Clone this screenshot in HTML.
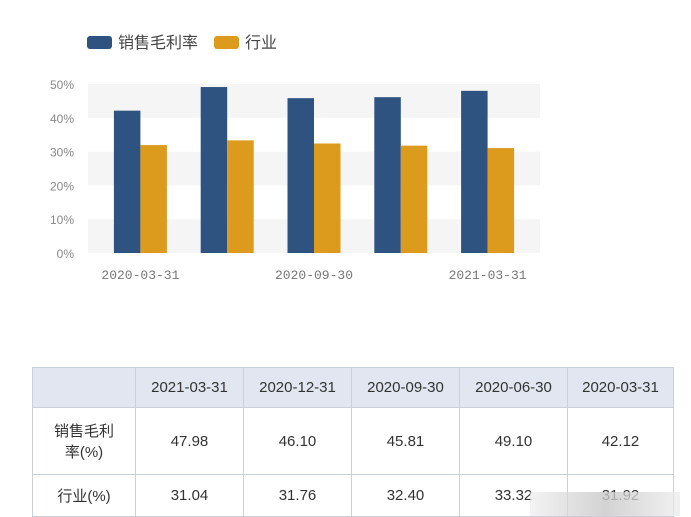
<!DOCTYPE html>
<html><head><meta charset="utf-8"><style>
body{margin:0;width:691px;height:516px;background:#fff;overflow:hidden;font-family:"Liberation Sans","Noto Sans CJK SC",sans-serif;position:relative}
table{position:absolute;left:32px;top:367px;border-collapse:collapse;font-size:15px;color:#333}
td{border:1px solid #c9d0dc;text-align:center;padding:0}
tr.h td{background:#e1e6f0;height:39px}
</style></head><body>
<svg width="691" height="360" style="position:absolute;left:0;top:0">
<g>
<rect x="87" y="36" width="25" height="13" rx="3" fill="#2e5381"/>
<text x="118" y="48" font-size="16" fill="#444">销售毛利率</text>
<rect x="214" y="36" width="25" height="13" rx="3" fill="#dc9b1c"/>
<text x="245" y="48" font-size="16" fill="#444">行业</text>
</g>
<g id="bands"></g><g id="ylab"></g><g id="bars"></g><g id="xlab"></g>
</svg>
<table>
<tr class="h"><td style="width:102px"></td><td style="width:107px">2021-03-31</td><td style="width:107px">2020-12-31</td><td style="width:107px">2020-09-30</td><td style="width:107px">2020-06-30</td><td style="width:105px">2020-03-31</td></tr>
<tr style="height:67px"><td>销售毛利<br>率(%)</td><td>47.98</td><td>46.10</td><td>45.81</td><td>49.10</td><td>42.12</td></tr>
<tr style="height:42px"><td>行业(%)</td><td>31.04</td><td>31.76</td><td>32.40</td><td>33.32</td><td>31.92</td></tr>
</table>
<div style="position:absolute;left:530px;top:492px;width:150px;height:24px;background:linear-gradient(90deg,rgba(235,235,235,.6),rgba(200,200,200,.8),rgba(235,235,235,.7))"></div>
<script>
const categories=["2020-03-31","2020-06-30","2020-09-30","2020-12-31","2021-03-31"];
const marginValues=[42.12,49.10,45.81,46.10,47.98];
const industryValues=[31.92,33.32,32.40,31.76,31.04];
const yTicks=[0,10,20,30,40,50];
const xLabelIdx=[0,2,4];
const NS="http://www.w3.org/2000/svg";
const y0=253,y1=84,yMax=50,xL=97,xR=531,bw=26.5;
const y=v=>y0-(v/yMax)*(y0-y1);
const step=(xR-xL)/categories.length;
const cx=i=>xL+step*(i+0.5);
function mk(t,a,p){const e=document.createElementNS(NS,t);for(const k in a)e.setAttribute(k,a[k]);document.getElementById(p).appendChild(e);return e;}
for(let i=0;i<yTicks.length-1;i++){
 const e=mk('rect',{x:88,y:y(yTicks[i+1]),width:452,height:y(yTicks[i])-y(yTicks[i+1]),fill:i%2==0?'#f5f5f5':'#fff'},'bands');
 
 
}
yTicks.forEach(v=>{const e=mk('text',{x:74,y:y(v)+5,'font-size':12,fill:'#888','text-anchor':'end'},'ylab');e.textContent=v+'%';
 
 });
categories.forEach((c,i)=>{
 const a=mk('rect',{x:cx(i)-bw,y:y(marginValues[i]),width:bw,height:y0-y(marginValues[i]),fill:'#2e5381'},'bars');
 
 
 const b=mk('rect',{x:cx(i),y:y(industryValues[i]),width:bw,height:y0-y(industryValues[i]),fill:'#dc9b1c'},'bars');
 
 
});
xLabelIdx.forEach(i=>{const e=mk('text',{x:cx(i),y:279,'font-size':13,fill:'#777','text-anchor':'middle','font-family':'Liberation Mono, monospace'},'xlab');e.textContent=categories[i];
 
 });
</script>
</body></html>
